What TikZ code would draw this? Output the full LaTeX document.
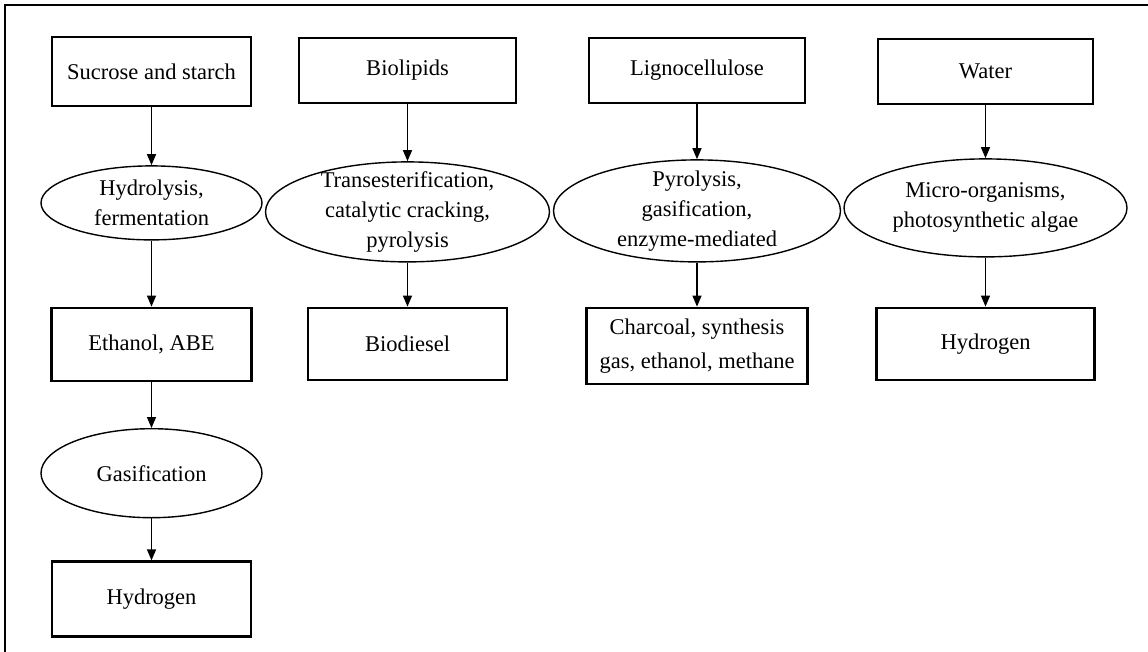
\documentclass[tikz,border=0pt]{standalone}
\usepackage{fontspec}
\setmainfont{Liberation Serif}
\usepackage{tikz}
\usetikzlibrary{positioning}
\usetikzlibrary{arrows.meta}
\usetikzlibrary{shapes.geometric}

\begin{document}
\begin{tikzpicture}[
            x = 1pt, y = 1pt,
            > = {Triangle[length=11pt,width=9pt]}, % arrow head style
            auto,
            node distance = 50pt, % distance between nodes
            font = \fontsize{22.5}{30}\selectfont
        ]

        \tikzstyle{box}=[
            draw,
            rectangle,
            line width = 2.4pt,
            inner sep = 2pt,
            align = center,
            minimum width = 200pt,
            minimum height = 68pt
        ]
        \tikzstyle{process}=[
            draw,
            ellipse,
            line width = 1.4pt,
            inner xsep = 0pt,
            inner ysep = -6pt,
            align = center,
            minimum width = 285pt,
            minimum height = 100pt
        ]
        \tikzstyle{flow}=[->, line width = 1.3pt]

        \useasboundingbox (0,0) rectangle (1148,-652);
        \draw[line width = 2pt] (5,-652) -- (5,-5) -- (1148,-5);

	% sucrose and starch
        \node[box, minimum width = 199pt, minimum height = 69pt] (SS) at (151.5,-71.5) {Sucrose and starch};
        \node[process, minimum width = 221pt, minimum height = 74pt] (HF) [below = 58pt of SS] {Hydrolysis,\\fermentation};
        \node[box, minimum height = 73pt] (EA) [below = 66pt of HF] {Ethanol, ABE};
        \node[process, minimum width = 221pt, minimum height = 89pt] (G) [below = 46pt of EA] {Gasification};
        \node[box, minimum width = 199pt, minimum height = 75pt] (H1) [below = 42pt of G] {Hydrogen};

        \path[flow] (SS) edge (HF);
        \path[flow] (HF) edge (EA);
        \path[flow] (EA) edge (G);
        \path[flow] (G) edge (H1);

	% biolipids
        \node[box, minimum width = 217pt, minimum height = 65pt] (BL) at (407.5,-70.5) {Biolipids};
        \node[process, minimum width = 284pt] (TC) [below = 57pt of BL] {Transesterification,\\catalytic cracking,\\pyrolysis};
        \node[box, minimum width = 199pt, minimum height = 72pt] (BD) [below = 44pt of TC] {Biodiesel};

        \path[flow] (BL) edge (TC);
        \path[flow] (TC) edge (BD);

	% lignocellulose
        \node[box, minimum width = 216pt, minimum height = 65pt] (LC) at (697,-70.5) {Lignocellulose};
        \node[process, minimum width = 287pt, minimum height = 102pt] (PG) [below = 55pt of LC] {Pyrolysis,\\gasification,\\enzyme-mediated};
        \node[box, minimum width = 221pt, minimum height = 76pt] (CS) [below = 44pt of PG] {Charcoal, synthesis\\[4pt]gas, ethanol, methane};

        \path[flow] (LC) edge (PG);
        \path[flow] (PG) edge (CS);

	% water
        \node[box, minimum width = 215pt, minimum height = 65pt] (W) at (985.5,-71.5) {Water};
        \node[process, minimum width = 283pt, minimum height = 98pt] (MA) [below = 53pt of W] {Micro-organisms,\\photosynthetic algae};
        \node[box, minimum width = 218pt, minimum height = 72pt] (H2) [below = 49pt of MA] {Hydrogen};

        \path[flow] (W) edge (MA);
        \path[flow] (MA) edge (H2);

\end{tikzpicture}
\end{document}
